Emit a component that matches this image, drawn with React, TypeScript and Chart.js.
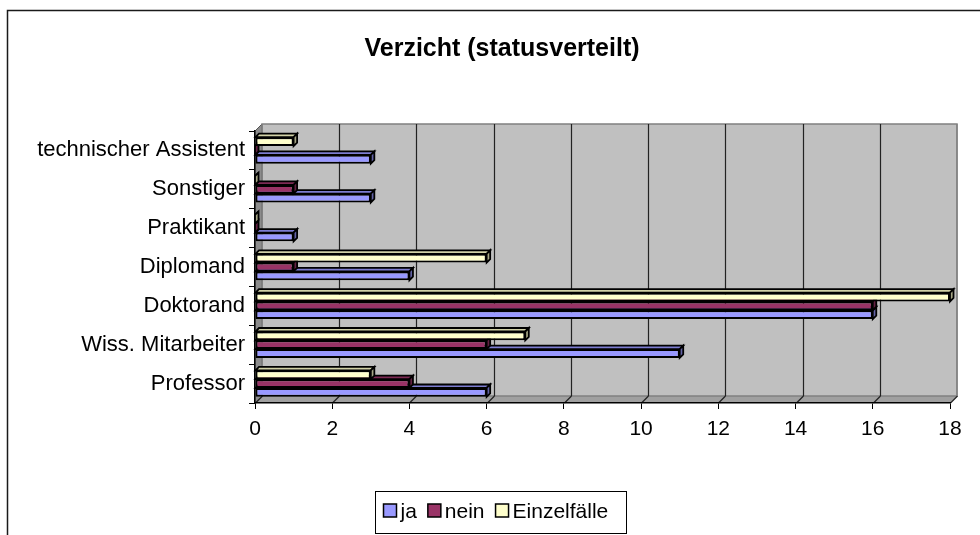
import React, { useEffect, useRef } from "react";
import { Chart, registerables } from "chart.js";

Chart.register(...registerables);

const categories = [
  "Professor",
  "Wiss. Mitarbeiter",
  "Doktorand",
  "Diplomand",
  "Praktikant",
  "Sonstiger",
  "technischer Assistent",
];
const jaValues = [6, 11, 16, 4, 1, 3, 3];
const neinValues = [4, 6, 16, 1, 0, 1, 0];
const einzelValues = [3, 7, 18, 6, 0, 0, 1];
const seriesNames = ["ja", "nein", "Einzelfälle"];
const seriesColors = ["#9999FF", "#993366", "#FFFFCC"];
const xMin = 0;
const xMax = 18;
const xStep = 2;
const chartTitle = "Verzicht (statusverteilt)";

const FONT = '"Liberation Sans", Arial, sans-serif';
const DEPTH = 7;
const BAR_DEPTH = 3.5;

function shade(hex: string, f: number): string {
  const n = parseInt(hex.slice(1), 16);
  const r = Math.round(((n >> 16) & 255) * f);
  const g = Math.round(((n >> 8) & 255) * f);
  const b = Math.round((n & 255) * f);
  return `rgb(${r},${g},${b})`;
}

const wallPlugin = {
  id: "wall3d",
  beforeDraw(chart: any) {
    const { ctx, chartArea: ca, scales } = chart;
    const D = DEPTH;
    ctx.save();
    ctx.fillStyle = "#C0C0C0";
    ctx.fillRect(ca.left + D, ca.top - D, ca.right - ca.left, ca.bottom - ca.top);
    ctx.fillStyle = "#8C8C8C";
    ctx.beginPath();
    ctx.moveTo(ca.left, ca.top);
    ctx.lineTo(ca.left + D, ca.top - D);
    ctx.lineTo(ca.left + D, ca.bottom - D);
    ctx.lineTo(ca.left, ca.bottom);
    ctx.closePath();
    ctx.fill();
    ctx.strokeStyle = "#555";
    ctx.lineWidth = 1;
    ctx.stroke();
    ctx.fillStyle = "#A0A0A0";
    ctx.beginPath();
    ctx.moveTo(ca.left, ca.bottom);
    ctx.lineTo(ca.left + D, ca.bottom - D);
    ctx.lineTo(ca.right + D, ca.bottom - D);
    ctx.lineTo(ca.right, ca.bottom);
    ctx.closePath();
    ctx.fill();
    ctx.strokeStyle = "#808080";
    ctx.lineWidth = 1.5;
    ctx.strokeRect(ca.left + D, ca.top - D, ca.right - ca.left, ca.bottom - ca.top);
    const xs = scales.x;
    ctx.strokeStyle = "#222";
    ctx.lineWidth = 1.2;
    for (let v = xMin; v <= xMax; v += xStep) {
      const px = Math.round(xs.getPixelForValue(v)) + 0.5;
      if (v !== xMin && v !== xMax) {
        ctx.beginPath();
        ctx.moveTo(px + D, ca.top - D);
        ctx.lineTo(px + D, ca.bottom - D);
        ctx.stroke();
      }
      ctx.beginPath();
      ctx.moveTo(px, ca.bottom);
      ctx.lineTo(px + D, ca.bottom - D);
      ctx.stroke();
    }
    ctx.strokeStyle = "#808080";
    ctx.beginPath();
    ctx.moveTo(ca.right + D, ca.top - D);
    ctx.lineTo(ca.right + D, ca.bottom - D);
    ctx.stroke();
    ctx.restore();
  },
  beforeDatasetsDraw(chart: any) {
    const { ctx } = chart;
    const d = BAR_DEPTH;
    const bars: any[] = [];
    chart.data.datasets.forEach((ds: any, di: number) => {
      const meta = chart.getDatasetMeta(di);
      meta.data.forEach((el: any) => {
        const p = el.getProps(["x", "y", "base", "height"], true);
        bars.push({ ...p, color: ds.backgroundColor });
      });
    });
    bars.sort((a, b) => b.y - a.y);
    ctx.save();
    ctx.strokeStyle = "#000";
    ctx.lineWidth = 1.8;
    ctx.lineJoin = "miter";
    for (const b of bars) {
      const top = b.y - b.height / 2;
      const bottom = b.y + b.height / 2;
      const x0 = b.base;
      const x1 = b.x;
      ctx.fillStyle = shade(b.color, 0.82);
      ctx.beginPath();
      ctx.moveTo(x0, top);
      ctx.lineTo(x1, top);
      ctx.lineTo(x1 + d, top - d);
      ctx.lineTo(x0 + d, top - d);
      ctx.closePath();
      ctx.fill();
      ctx.stroke();
      ctx.fillStyle = shade(b.color, 0.65);
      ctx.beginPath();
      ctx.moveTo(x1, top);
      ctx.lineTo(x1 + d, top - d);
      ctx.lineTo(x1 + d, bottom - d);
      ctx.lineTo(x1, bottom);
      ctx.closePath();
      ctx.fill();
      ctx.stroke();
    }
    ctx.restore();
  },
  afterDraw(chart: any) {
    const { ctx } = chart;
    ctx.save();
    ctx.strokeStyle = "#1a1a1a";
    ctx.lineWidth = 1.5;
    ctx.strokeRect(7.5, 10.5, 1000, 600);
    ctx.fillStyle = "#000";
    ctx.font = `bold 25px ${FONT}`;
    ctx.textAlign = "center";
    ctx.textBaseline = "alphabetic";
    ctx.fillText(chartTitle, 502, 56);
    ctx.strokeStyle = "#000";
    ctx.lineWidth = 1;
    ctx.fillStyle = "#fff";
    ctx.fillRect(375.5, 491.5, 251, 42);
    ctx.strokeRect(375.5, 491.5, 251, 42);
    ctx.font = `21px ${FONT}`;
    ctx.textAlign = "left";
    let x = 383.5;
    seriesNames.forEach((name, i) => {
      ctx.fillStyle = seriesColors[i];
      ctx.fillRect(x, 504, 13, 13);
      ctx.strokeStyle = "#000";
      ctx.lineWidth = 1.5;
      ctx.strokeRect(x, 504, 13, 13);
      ctx.fillStyle = "#000";
      const tx = x + 17;
      ctx.fillText(name, tx, 518);
      x = tx + ctx.measureText(name).width + 11;
    });
    ctx.restore();
  },
};

export default function App() {
  const ref = useRef<HTMLCanvasElement | null>(null);
  useEffect(() => {
    if (!ref.current) return;
    const seriesValues = [jaValues, neinValues, einzelValues];
    // dataset 0 is placed at the top of each group, so feed series in reverse
    const order = [2, 1, 0];
    const chart = new Chart(ref.current, {
      type: "bar",
      data: {
        labels: categories,
        datasets: order.map((i) => ({
          label: seriesNames[i],
          data: seriesValues[i],
          backgroundColor: seriesColors[i],
          borderColor: "#000",
          borderWidth: 2,
          borderSkipped: false,
          categoryPercentage: 0.68,
          barPercentage: 1.0,
        })),
      },
      options: {
        indexAxis: "y",
        animation: false,
        responsive: false,
        layout: { padding: { top: 131, right: 30, bottom: 0, left: 0 } },
        plugins: {
          legend: { display: false },
          title: { display: false },
          tooltip: { enabled: false },
        },
        scales: {
          x: {
            min: xMin,
            max: xMax,
            ticks: {
              stepSize: xStep,
              color: "#000",
              font: { family: FONT, size: 21 },
              padding: 8,
            },
            grid: {
              drawOnChartArea: false,
              drawTicks: true,
              tickLength: 6,
              color: "#000",
            },
            border: { display: true, color: "#000", width: 1.5 },
            afterFit: (s: any) => {
              s.height = 132;
            },
          },
          y: {
            reverse: true,
            ticks: {
              color: "#000",
              font: { family: FONT, size: 22 },
              padding: 4,
            },
            grid: {
              drawOnChartArea: false,
              drawTicks: true,
              tickLength: 6,
              color: "#000",
            },
            border: { display: true, color: "#000", width: 1.5 },
            afterFit: (s: any) => {
              s.width = 255;
            },
          },
        },
      },
      plugins: [wallPlugin],
    });
    return () => chart.destroy();
  }, []);
  return (
    <div style={{ position: "fixed", left: 0, top: 0, width: 980, height: 535, background: "#fff" }}>
      <canvas ref={ref} width={980} height={535} style={{ display: "block" }} />
    </div>
  );
}
